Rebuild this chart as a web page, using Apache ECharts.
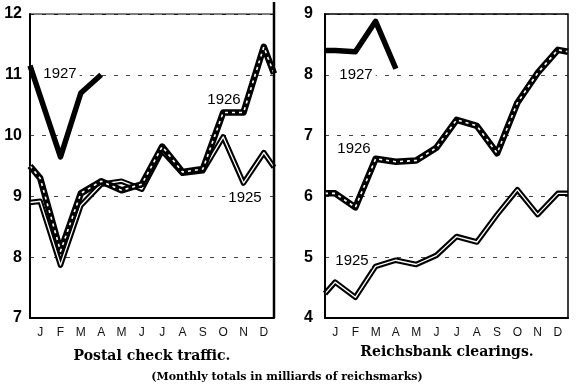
<!DOCTYPE html>
<html>
<head>
<meta charset="utf-8">
<script src="https://cdn.jsdelivr.net/npm/echarts@6/dist/echarts.min.js"></script>
<style>
html,body{margin:0;padding:0;background:#fff;}
#c{width:576px;height:387px;}
</style>
</head>
<body>
<div id="c"></div>
<script>
// Month categories (tick labels)
const months = ['J','F','M','A','M','J','J','A','S','O','N','D'];
// x positions: frame edge (0.5), months 1..12, frame edge (12.5)
const xFull = [0.5, 1, 2, 3, 4, 5, 6, 7, 8, 9, 10, 11, 12, 12.5];
const xPart = [0.5, 1, 2, 3, 4];

// Postal check traffic (milliards RM), values at xFull / xPart
const postal1925 = [8.9, 8.92, 7.87, 8.85, 9.2, 9.25, 9.12, 9.75, 9.38, 9.42, 9.98, 9.22, 9.72, 9.48];
const postal1926 = [9.5, 9.3, 8.1, 9.05, 9.25, 9.1, 9.2, 9.82, 9.4, 9.45, 10.38, 10.38, 11.46, 11.02];
const postal1927 = [11.15, 10.65, 9.65, 10.7, 11.0];

// Reichsbank clearings (milliards RM)
const clear1925 = [4.4, 4.59, 4.34, 4.85, 4.95, 4.88, 5.03, 5.34, 5.25, 5.7, 6.11, 5.7, 6.05, 6.05];
const clear1926 = [6.05, 6.05, 5.82, 6.62, 6.57, 6.59, 6.8, 7.26, 7.16, 6.71, 7.54, 8.03, 8.41, 8.38];
const clear1927 = [8.4, 8.4, 8.38, 8.88, 8.1];

// y-axis ranges
const postalRange = [7, 12];
const clearRange = [4, 9];

const pair = (xs, ys) => xs.map((x, i) => [x, ys[i]]);

function lineSeries(gi, data, w, color, type, z) {
  return {
    type: 'line', xAxisIndex: gi * 2 + 1, yAxisIndex: gi, data: data,
    symbol: 'none', silent: true, z: z, animation: false,
    lineStyle: {width: w, color: color, type: type, cap: 'butt', join: 'round'}
  };
}

function styledYear(gi, xs, ys, kind) {
  const d = pair(xs, ys);
  if (kind === 'solid') return [lineSeries(gi, d, 5.5, '#000', 'solid', 5)];
  if (kind === 'dashed') return [lineSeries(gi, d, 6.5, '#000', 'solid', 4), lineSeries(gi, d, 1.6, '#fff', [3, 4], 6)];
  return [lineSeries(gi, d, 5.5, '#000', 'solid', 3), lineSeries(gi, d, 1.3, '#fff', 'solid', 3.5)];
}

const grids = [
  {left: 30, top: 14, width: 244, height: 304},
  {left: 325, top: 14, width: 243, height: 304}
];

const xAxes = [];
const yAxes = [];
[postalRange, clearRange].forEach((rng, gi) => {
  xAxes.push({
    gridIndex: gi, type: 'category', data: months, boundaryGap: true,
    axisLine: {show: true, lineStyle: {color: '#000', width: 2}},
    axisTick: {show: false},
    axisLabel: {color: '#111', fontFamily: 'Liberation Sans', fontSize: 12, margin: 9},
    splitLine: {show: false}
  });
  xAxes.push({
    gridIndex: gi, type: 'value', min: 0.5, max: 12.5, show: false
  });
  yAxes.push({
    gridIndex: gi, type: 'value', min: rng[0], max: rng[1], interval: 1,
    axisLine: {show: true, lineStyle: {color: '#000', width: 2}},
    axisTick: {show: false},
    axisLabel: {color: '#000', fontFamily: 'Liberation Sans', fontWeight: 'bold', fontSize: 16, margin: gi === 0 ? 8 : 12},
    splitLine: {show: true, lineStyle: {color: '#444', width: 1, type: [4, 8]}}
  });
});

const series = [].concat(
  styledYear(0, xFull, postal1925, 'double'),
  styledYear(0, xFull, postal1926, 'dashed'),
  styledYear(0, xPart, postal1927, 'solid'),
  styledYear(1, xFull, clear1925, 'double'),
  styledYear(1, xFull, clear1926, 'dashed'),
  styledYear(1, xPart, clear1927, 'solid')
);

function label(text, x, y, opts) {
  return {
    type: 'text', x: x, y: y, z: 50, silent: true,
    style: Object.assign({text: text, fill: '#000', font: '15px "Liberation Sans"', textAlign: 'center', textVerticalAlign: 'middle'}, opts || {})
  };
}

const graphic = [
  // panel frames (top and right edges)
  {type: 'rect', shape: {x: 30, y: 14, width: 244, height: 304}, style: {fill: 'none', stroke: '#000', lineWidth: 1.2}, z: 40, silent: true},
  {type: 'line', shape: {x1: 274, y1: 2, x2: 274, y2: 318}, style: {stroke: '#000', lineWidth: 2.5}, z: 40, silent: true},
  {type: 'rect', shape: {x: 325, y: 14, width: 243, height: 304}, style: {fill: 'none', stroke: '#000', lineWidth: 1.5}, z: 40, silent: true},
  // year labels
  label('1927', 60, 74, {backgroundColor: '#fff', padding: [0, 3]}),
  label('1926', 224, 100),
  label('1925', 245, 198, {backgroundColor: '#fff', padding: [0, 3]}),
  label('1927', 356, 75, {backgroundColor: '#fff', padding: [0, 3]}),
  label('1926', 354, 149),
  label('1925', 352, 261, {backgroundColor: '#fff', padding: [0, 3]}),
  // titles
  label('Postal check traffic.', 152, 356, {font: 'bold 14px "DejaVu Serif"'}),
  label('Reichsbank clearings.', 447, 352, {font: 'bold 14px "DejaVu Serif"'}),
  label('(Monthly totals in milliards of reichsmarks)', 287, 377, {font: 'bold 11px "DejaVu Serif"'})
];

const chart = echarts.init(document.getElementById('c'), null, {renderer: 'canvas'});
chart.setOption({
  animation: false,
  backgroundColor: '#fff',
  grid: grids,
  xAxis: xAxes,
  yAxis: yAxes,
  series: series,
  graphic: graphic
});
</script>
</body>
</html>
